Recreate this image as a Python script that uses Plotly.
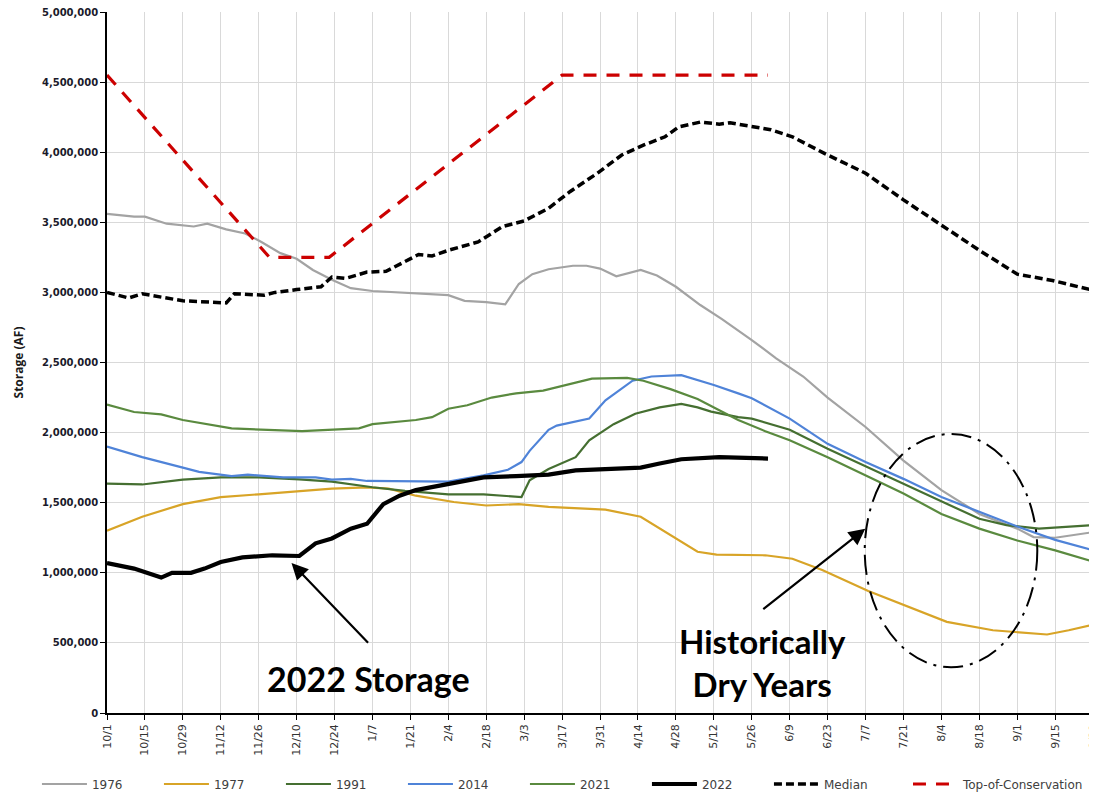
import plotly.graph_objects as go

# ---------------- data (day of water year from 10/1, storage in million AF) ----------------
tick_labels = ["10/1", "10/15", "10/29", "11/12", "11/26", "12/10", "12/24", "1/7", "1/21",
               "2/4", "2/18", "3/3", "3/17", "3/31", "4/14", "4/28", "5/12", "5/26", "6/9",
               "6/23", "7/7", "7/21", "8/4", "8/18", "9/1", "9/15", "9/29"]
tick_days = [14 * i for i in range(len(tick_labels))]

days_1976 = [0, 10, 14, 22, 32, 37, 44, 51, 57, 64, 70, 76, 83, 90, 98, 108, 126, 132, 140, 147,
             152, 157, 163, 172, 177, 182, 188, 197, 203, 210, 219, 227, 238, 247, 257, 266, 280,
             294, 308, 322, 336, 342, 350, 364]
maf_1976 = [3.56, 3.54, 3.54, 3.49, 3.47, 3.49, 3.45, 3.42, 3.36, 3.28, 3.24, 3.16, 3.09, 3.03,
            3.01, 3.00, 2.98, 2.94, 2.93, 2.915, 3.06, 3.13, 3.165, 3.19, 3.19, 3.17, 3.115, 3.16,
            3.12, 3.04, 2.91, 2.81, 2.66, 2.53, 2.40, 2.25, 2.04, 1.80, 1.59, 1.42, 1.315, 1.255,
            1.25, 1.29]

days_1977 = [0, 13, 28, 42, 56, 71, 83, 96, 104, 114, 128, 140, 152, 163, 173, 184, 197, 209, 218,
             225, 243, 253, 264, 281, 296, 310, 327, 338, 347, 355, 364]
maf_1977 = [1.30, 1.40, 1.49, 1.54, 1.56, 1.58, 1.60, 1.61, 1.60, 1.55, 1.505, 1.48, 1.49, 1.47,
            1.46, 1.45, 1.40, 1.255, 1.15, 1.13, 1.125, 1.10, 1.02, 0.87, 0.756, 0.65, 0.59, 0.575,
            0.56, 0.59, 0.63]

days_1991 = [0, 13, 28, 42, 56, 71, 83, 98, 110, 120, 126, 139, 145, 153, 156, 163, 173, 178, 187,
             195, 204, 212, 218, 223, 233, 238, 252, 266, 280, 294, 308, 322, 332, 344, 364]
maf_1991 = [1.636, 1.63, 1.665, 1.68, 1.68, 1.667, 1.65, 1.61, 1.585, 1.57, 1.56, 1.56, 1.55, 1.54,
            1.66, 1.74, 1.825, 1.945, 2.06, 2.135, 2.18, 2.205, 2.18, 2.15, 2.11, 2.10, 2.02,
            1.885, 1.76, 1.635, 1.505, 1.385, 1.34, 1.315, 1.34]

days_2014 = [0, 13, 28, 34, 46, 52, 65, 77, 83, 90, 96, 120, 126, 139, 148, 153, 156, 163, 166,
             178, 184, 194, 201, 212, 219, 224, 233, 238, 252, 266, 280, 294, 308, 322, 336, 350, 364]
maf_2014 = [1.90, 1.825, 1.75, 1.72, 1.69, 1.70, 1.68, 1.68, 1.665, 1.67, 1.655, 1.655, 1.65,
            1.695, 1.735, 1.79, 1.87, 2.02, 2.05, 2.10, 2.23, 2.37, 2.40, 2.41, 2.37, 2.34, 2.28,
            2.245, 2.10, 1.92, 1.79, 1.67, 1.54, 1.435, 1.33, 1.235, 1.16]

days_2021 = [0, 10, 20, 28, 46, 59, 72, 93, 98, 114, 120, 126, 133, 142, 151, 161, 170, 179, 192,
             198, 208, 218, 226, 233, 243, 252, 266, 280, 294, 308, 322, 336, 350, 364]
maf_2021 = [2.20, 2.147, 2.13, 2.09, 2.03, 2.02, 2.01, 2.03, 2.06, 2.09, 2.11, 2.17, 2.195, 2.25,
            2.28, 2.30, 2.34, 2.385, 2.39, 2.37, 2.31, 2.24, 2.16, 2.09, 2.01, 1.945, 1.825, 1.695,
            1.565, 1.42, 1.315, 1.23, 1.16, 1.08]

days_2022 = [0, 10, 20, 24, 31, 36, 42, 50, 61, 71, 77, 83, 90, 96, 102, 108, 114, 126, 139, 151,
             163, 173, 185, 197, 204, 212, 226, 244]
maf_2022 = [1.07, 1.03, 0.966, 1.00, 1.00, 1.03, 1.077, 1.11, 1.125, 1.12, 1.21, 1.245, 1.315,
            1.35, 1.49, 1.55, 1.59, 1.636, 1.68, 1.69, 1.70, 1.73, 1.74, 1.75, 1.78, 1.81, 1.825,
            1.815]

days_median = [0, 8, 13, 28, 44, 47, 58, 62, 70, 79, 83, 88, 96, 103, 115, 120, 126, 137, 146, 154,
               163, 171, 181, 190, 198, 206, 211, 219, 226, 230, 245, 253, 265, 280, 294, 307, 322,
               336, 349, 364]
maf_median = [3.00, 2.96, 2.99, 2.94, 2.925, 2.99, 2.98, 3.00, 3.02, 3.04, 3.11, 3.10, 3.145, 3.15,
              3.27, 3.26, 3.30, 3.36, 3.47, 3.51, 3.60, 3.72, 3.85, 3.98, 4.05, 4.11, 4.18, 4.215,
              4.20, 4.21, 4.16, 4.11, 3.99, 3.85, 3.66, 3.49, 3.30, 3.13, 3.085, 3.015]

days_toc = [0, 60, 82, 168, 244]
maf_toc = [4.55, 3.25, 3.25, 4.55, 4.55]

# ---------------- figure ----------------
series = [
    ("1976", days_1976, maf_1976, "#a3a3a3", 2.2, "solid", "legend"),
    ("1977", days_1977, maf_1977, "#d8a427", 2.2, "solid", "legend"),
    ("1991", days_1991, maf_1991, "#456f31", 2.2, "solid", "legend"),
    ("2014", days_2014, maf_2014, "#4f83d8", 2.2, "solid", "legend"),
    ("2021", days_2021, maf_2021, "#5a8a3f", 2.2, "solid", "legend"),
    ("2022", days_2022, maf_2022, "#000000", 4.2, "solid", "legend"),
    ("Median", days_median, maf_median, "#000000", 3.5, "8px,4px", "legend"),
    ("Top-of-Conservation", days_toc, maf_toc, "#cc0000", 3.2, "13px,10px", "legend2"),
]

fig = go.Figure()
for name, d, v, color, width, dash, leg in series:
    fig.add_trace(go.Scatter(
        x=d, y=[val * 1e6 for val in v], mode="lines", name=name, legend=leg,
        line=dict(color=color, width=width, dash=dash),
    ))

anno_font = dict(family="Lato", size=34, color="#000000", weight="bold")

fig.add_annotation(x=96.5, y=0.245e6, xref="x", yref="y", text="2022 Storage",
                   showarrow=False, font=anno_font)
fig.add_annotation(x=241.8, y=0.362e6, xref="x", yref="y", text="Historically<br>Dry Years",
                   showarrow=False, font=dict(family="Lato", size=33, color="#000000",
                                              weight="bold"))

# arrows
fig.add_annotation(x=68.1, y=1.07e6, ax=96.9, ay=0.49e6, xref="x", yref="y",
                   axref="x", ayref="y", text="", showarrow=True, arrowhead=2,
                   arrowsize=1.5, arrowwidth=2.2, arrowcolor="#000000")
fig.add_annotation(x=279.9, y=1.315e6, ax=241.7, ay=0.733e6, xref="x", yref="y",
                   axref="x", ayref="y", text="", showarrow=True, arrowhead=2,
                   arrowsize=1.5, arrowwidth=2.2, arrowcolor="#000000")

# dash-dot ellipse
fig.add_shape(type="circle", xref="x", yref="y", x0=279.7, x1=343.4, y0=0.326e6, y1=1.99e6,
              line=dict(color="#000000", width=2, dash="20px,7px,3px,7px"))

legend_font = dict(family="DejaVu Sans", size=12, color="#404040")

fig.update_layout(
    width=1089, height=800,
    margin=dict(l=99, r=2, t=4, b=95),
    plot_bgcolor="white", paper_bgcolor="white",
    showlegend=True,
    legend=dict(orientation="h", x=-0.0709, xanchor="left", y=-0.1013, yanchor="middle",
                font=legend_font, entrywidth=62, entrywidthmode="pixels", itemwidth=45,
                bgcolor="rgba(0,0,0,0)", tracegroupgap=0),
    legend2=dict(orientation="h", x=0.8107, xanchor="left", y=-0.1013, yanchor="middle",
                 font=legend_font, itemwidth=45, bgcolor="rgba(0,0,0,0)"),
    xaxis=dict(range=[0, 364.7], tickmode="array", tickvals=tick_days, ticktext=tick_labels,
               tickangle=-90, showgrid=True, gridcolor="#d9d9d9", gridwidth=1,
               showline=True, linecolor="#000000", linewidth=1.5, automargin=False,
               ticks="outside", ticklen=5, tickcolor="#000000", zeroline=False,
               ticklabeloverflow="allow",
               tickfont=dict(family="DejaVu Sans", size=11, color="#333333")),
    yaxis=dict(range=[0, 5e6], tickvals=[i * 500000 for i in range(11)],
               tickformat=",d", showgrid=True, gridcolor="#d9d9d9", gridwidth=1,
               showline=True, linecolor="#000000", linewidth=1.5, automargin=False,
               ticks="outside", ticklen=5, tickcolor="#000000", zeroline=False,
               ticklabeloverflow="allow",
               tickfont=dict(family="DejaVu Sans", size=10, color="#1a1a2a", weight="bold"),
               title=dict(text="Storage (AF)", standoff=16,
                          font=dict(family="Open Sans", size=12, color="#1a1a1a",
                                    weight="bold"))),
)

fig.write_html("out.html")
